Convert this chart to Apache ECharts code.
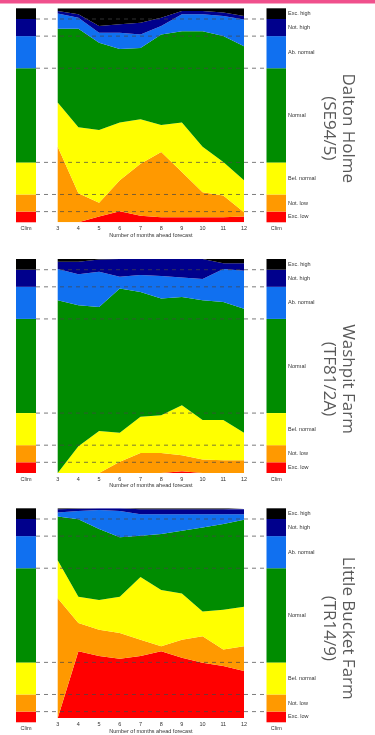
<!DOCTYPE html>
<html><head><meta charset="utf-8">
<script src="https://cdn.jsdelivr.net/npm/echarts@6/dist/echarts.min.js"></script>
<style>html,body{margin:0;padding:0;background:#fff;}#c{width:375px;height:735px;}</style>
</head><body><div id="c"></div>
<script>
// ---------- data ----------
const months = ['3','4','5','6','7','8','9','10','11','12'];
const classes = ['Exc. low','Not. low','Bel. normal','Normal','Ab. normal','Not. high','Exc. high'];
const climPct = [5, 8, 15, 44, 15, 8, 5];
const climLabel = ['Clim'];
const xAxisTitle = 'Number of months ahead forecast';
const siteTitles = ['Dalton Holme\n(SE94/5)', 'Washpit Farm\n(TF81/2A)', 'Little Bucket Farm\n(TR14/9)'];

// Dalton Holme (SE94/5) – % probability per class
const daltonExcLow   = [0, 0, 2.7, 5.2, 3.1, 2.4, 2.4, 2.4, 2.4, 2.7];
const daltonNotLow   = [35.3, 13.6, 6.4, 14.4, 24.3, 30.5, 21.1, 11.7, 10.1, 2.0];
const daltonBelNorm  = [20.7, 30.8, 34.0, 27.0, 20.7, 12.6, 23.1, 21.2, 15.7, 14.9];
const daltonNormal   = [34.4, 46.0, 40.8, 34.4, 33.4, 42.3, 42.7, 54.0, 58.8, 62.7];
const daltonAbNorm   = [7.2, 5.2, 4.7, 7.6, 6.3, 3.9, 7.9, 7.9, 9.4, 12.5];
const daltonNotHigh  = [1.1, 1.6, 3.1, 3.9, 5.5, 3.9, 1.5, 1.5, 1.6, 1.6];
const daltonExcHigh  = [1.3, 2.8, 8.3, 7.5, 6.7, 4.4, 1.3, 1.3, 2.0, 3.6];

// Washpit Farm (TF81/2A)
const washpitExcLow  = [0, 0, 0, 0, 0, 0, 0.8, 0, 0, 0];
const washpitNotLow  = [0, 0, 0, 5.2, 9.4, 9.4, 7.5, 6.3, 6.0, 6.0];
const washpitBelNorm = [0, 12.5, 19.6, 13.6, 16.9, 17.6, 23.4, 18.5, 18.8, 12.8];
const washpitNormal  = [80.7, 65.9, 58.0, 67.4, 58.3, 54.5, 50.6, 55.9, 55.1, 58.0];
const washpitAbNorm  = [14.6, 14.5, 16.4, 5.5, 7.9, 10.5, 9.1, 9.9, 15.4, 17.7];
const washpitNotHigh = [3.4, 5.8, 5.8, 8.3, 7.5, 8.0, 8.6, 9.4, 2.7, 3.5];
const washpitExcHigh = [1.3, 1.3, 0.2, 0, 0, 0, 0, 0, 2.0, 2.0];

// Little Bucket Farm (TR14/9)
const bucketExcLow   = [0, 31.9, 29.6, 28.3, 29.6, 31.9, 28.8, 26.4, 24.8, 22.5];
const bucketNotLow   = [57.1, 13.4, 12.5, 12.3, 7.8, 2.4, 8.6, 12.6, 7.9, 11.8];
const bucketBelNorm  = [18.1, 12.6, 14.2, 17.3, 29.9, 26.7, 22.0, 11.8, 18.9, 18.8];
const bucketNormal   = [20.9, 36.9, 33.8, 28.3, 19.6, 26.7, 29.9, 40.1, 40.9, 41.4];
const bucketAbNorm   = [1.9, 3.9, 9.1, 12.5, 10.3, 9.5, 7.9, 6.3, 4.7, 2.7];
const bucketNotHigh  = [1.5, 1.1, 0.8, 1.3, 2.3, 2.3, 2.3, 2.3, 2.3, 2.3];
const bucketExcHigh  = [0.5, 0.2, 0, 0, 0.5, 0.5, 0.5, 0.5, 0.5, 0.5];

// ---------- styling ----------
const classColors = ['#ff0000', '#ff9900', '#ffff00', '#008c00', '#1070f0', '#00008c', '#000000'];
const sites = [
  [daltonExcLow, daltonNotLow, daltonBelNorm, daltonNormal, daltonAbNorm, daltonNotHigh, daltonExcHigh],
  [washpitExcLow, washpitNotLow, washpitBelNorm, washpitNormal, washpitAbNorm, washpitNotHigh, washpitExcHigh],
  [bucketExcLow, bucketNotLow, bucketBelNorm, bucketNormal, bucketAbNorm, bucketNotHigh, bucketExcHigh]
];
const panelTops = [8.3, 259, 508.3];
const panelH = 214;
const txt = '#333';
const small = 5.5;

// thresholds from clim cumulative percentages
const thresholds = [];
{ let c = 0; for (let i = 0; i < climPct.length - 1; i++) { c += climPct[i]; thresholds.push(c); } }

const grid = [], xAxis = [], yAxis = [], series = [], graphic = [];
graphic.push({ type: 'rect', left: 0, top: 0, shape: { width: 375, height: 3.5 }, style: { fill: '#f0508c' }, z: 100 });

sites.forEach((siteData, p) => {
  const top = panelTops[p];
  const g0 = grid.length;
  grid.push({ left: 16, width: 20, top: top, height: panelH });          // left clim
  grid.push({ left: 57.7, width: 186.3, top: top, height: panelH });     // main
  grid.push({ left: 266.5, width: 19.5, top: top, height: panelH });     // right clim
  grid.push({ left: 36, width: 230.5, top: top, height: panelH });       // overlay lines

  const climX = (gi) => ({ type: 'category', gridIndex: gi, data: climLabel,
    axisLine: { show: false }, axisTick: { show: false },
    axisLabel: { fontSize: small, color: txt, margin: 3, fontFamily: 'Liberation Sans' } });
  xAxis.push(climX(g0));
  xAxis.push({ type: 'category', gridIndex: g0 + 1, data: months, boundaryGap: false,
    axisLine: { show: false }, axisTick: { show: false },
    axisLabel: { fontSize: small, color: txt, margin: 3, interval: 0, fontFamily: 'Liberation Sans' },
    name: xAxisTitle, nameLocation: 'middle', nameGap: 8.5,
    nameTextStyle: { fontSize: small, color: txt, fontFamily: 'Liberation Sans' } });
  xAxis.push(climX(g0 + 2));
  xAxis.push({ type: 'value', gridIndex: g0 + 3, min: 0, max: 1, show: false });
  for (let k = 0; k < 4; k++) yAxis.push({ type: 'value', gridIndex: g0 + k, min: 0, max: 100, show: false });

  // clim bars
  [0, 2].forEach(off => {
    climPct.forEach((v, i) => {
      series.push({ type: 'bar', xAxisIndex: g0 + off, yAxisIndex: g0 + off, stack: 'clim' + p + off,
        barWidth: '100%', data: [v], itemStyle: { color: classColors[i] }, silent: true,
        label: off === 2 ? { show: true, position: 'right', distance: 2, formatter: classes[i],
          fontSize: small, color: txt, fontFamily: 'Liberation Sans' } : { show: false } });
    });
  });
  // stacked areas
  siteData.forEach((arr, i) => {
    series.push({ type: 'line', xAxisIndex: g0 + 1, yAxisIndex: g0 + 1, stack: 'main' + p,
      data: arr, symbol: 'none', lineStyle: { width: 0, opacity: 0 },
      areaStyle: { color: classColors[i], opacity: 1 },
      itemStyle: { color: classColors[i] }, silent: true, z: 2 });
  });
  // dashed threshold lines
  thresholds.forEach(t => {
    series.push({ type: 'line', xAxisIndex: g0 + 3, yAxisIndex: g0 + 3, data: [[0, t], [1, t]],
      symbol: 'none', lineStyle: { color: 'rgba(70,70,70,0.7)', width: 1, type: [4, 4] }, silent: true, z: 5 });
  });
  // site title
  graphic.push({ type: 'text', x: 338, y: top + panelH / 2 + 13, rotation: -Math.PI / 2,
    style: { text: siteTitles[p], font: '17px "Open Sans"', fill: '#595959', align: 'center',
      verticalAlign: 'middle', lineHeight: 19 } });
});

const chart = echarts.init(document.getElementById('c'), null, { renderer: 'canvas' });
chart.setOption({ animation: false, grid, xAxis, yAxis, series, graphic });
</script></body></html>
